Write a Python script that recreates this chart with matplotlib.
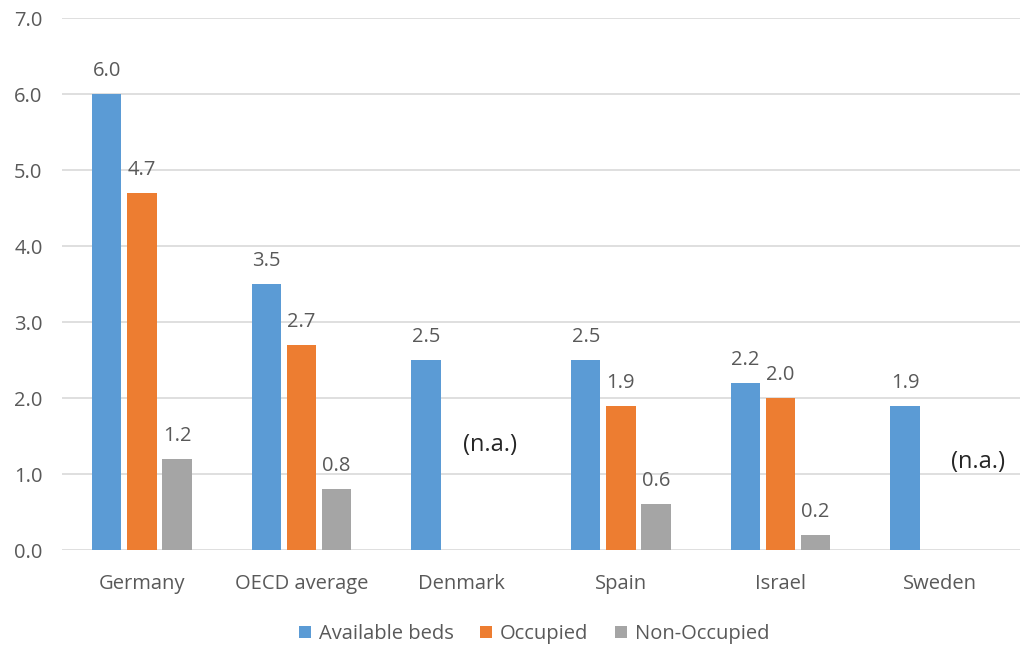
import matplotlib.pyplot as plt
import numpy as np

plt.rcParams['font.family'] = ['Open Sans', 'DejaVu Sans']

countries = ["Germany", "OECD average", "Denmark", "Spain", "Israel", "Sweden"]
available = [6.0, 3.5, 2.5, 2.5, 2.2, 1.9]
occupied = [4.7, 2.7, None, 1.9, 2.0, None]
non_occupied = [1.2, 0.8, None, 0.6, 0.2, None]
series_names = ["Available beds", "Occupied", "Non-Occupied"]
colors = ["#5B9BD5", "#ED7D31", "#A5A5A5"]
text_color = "#595959"
fs = 14.5

fig = plt.figure(figsize=(10.23, 6.49), dpi=100)
ax = fig.add_axes([62 / 1023, 1 - 550 / 649, (1020 - 62) / 1023, (550 - 18) / 649])

x = np.arange(len(countries))
offsets = [-0.22, 0.0, 0.22]
width = 0.185

for series, off, col, name in zip([available, occupied, non_occupied], offsets, colors, series_names):
    xs = [xi + off for xi, v in zip(x, series) if v is not None]
    vs = [v for v in series if v is not None]
    bars = ax.bar(xs, vs, width=width, color=col, label=name, zorder=3)
    for b, v in zip(bars, vs):
        ax.text(b.get_x() + b.get_width() / 2, v + 0.17, f"{v:.1f}",
                ha="center", va="bottom", fontsize=fs, color=text_color)

# Missing data notes
ax.text(x[2] + 0.18, 1.38, "(n.a.)", ha="center", va="center", fontsize=17, color="#262626")
ax.text(x[5] + 0.24, 1.16, "(n.a.)", ha="center", va="center", fontsize=17, color="#262626")

ax.set_xlim(-0.5, len(countries) - 0.5)
ax.set_ylim(0, 7)
ax.set_yticks(np.arange(0, 8, 1))
ax.set_yticklabels([f"{t:.1f}" for t in np.arange(0, 8, 1)])
ax.set_xticks(x)
ax.set_xticklabels(countries)
ax.tick_params(axis="y", length=0, pad=14, labelsize=fs, labelcolor=text_color)
ax.tick_params(axis="x", length=0, pad=17, labelsize=fs, labelcolor=text_color)
ax.grid(axis="y", color="#D9D9D9", linewidth=1.2, zorder=0)
for s in ax.spines.values():
    s.set_visible(False)

leg = fig.legend(loc="center", bbox_to_anchor=(534 / 1023, 1 - 634 / 649), ncol=3,
                 frameon=False, fontsize=fs, handlelength=0.6, handleheight=0.6,
                 handletextpad=0.4, columnspacing=1.3)
for t in leg.get_texts():
    t.set_color(text_color)

fig.savefig("out.png", dpi=100)
